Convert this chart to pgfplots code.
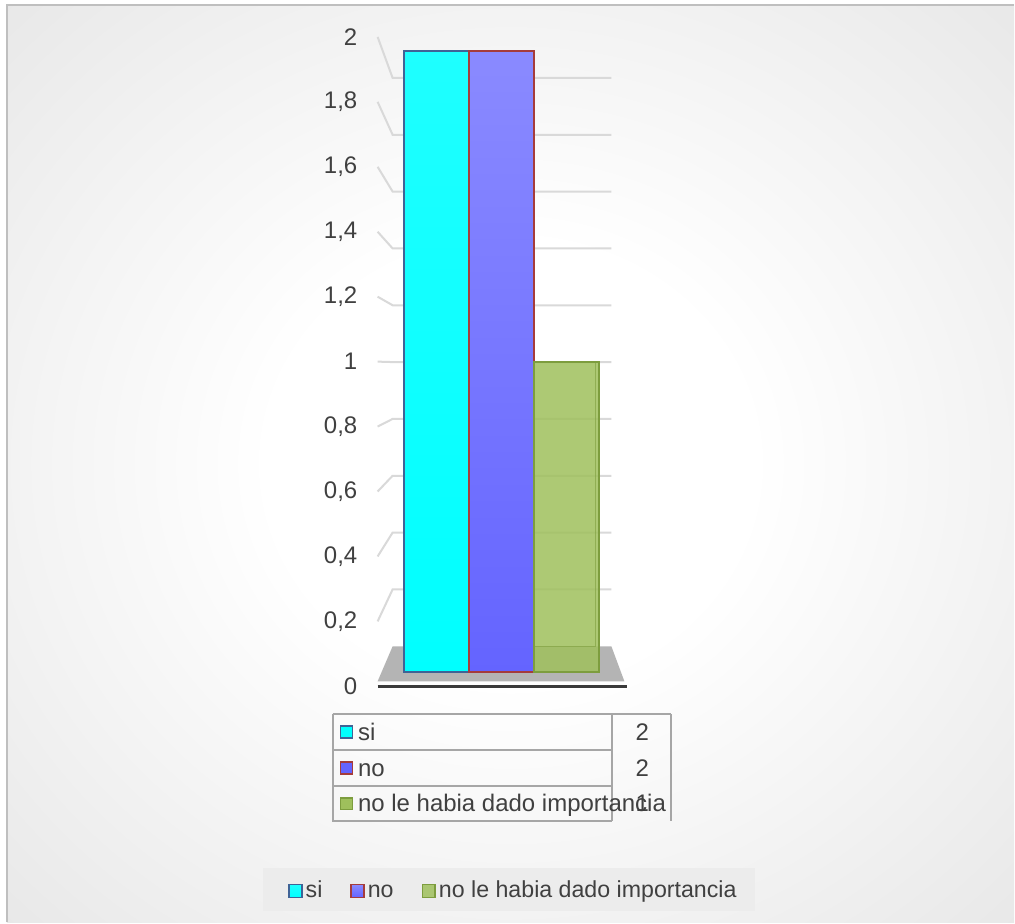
\documentclass[border=0pt]{standalone}
\usepackage{fontspec}
\setmainfont{Liberation Sans}
\usepackage{pgfplots}
\pgfplotsset{compat=1.18}

\definecolor{bgedge}{HTML}{DADADA}
\definecolor{bgcorner}{HTML}{C4C4C4}
\definecolor{framec}{HTML}{BFBFBF}
\definecolor{gridc}{HTML}{D9D9D9}
\definecolor{floorc}{HTML}{B4B4B4}
\definecolor{basec}{HTML}{3A3A3A}
\definecolor{textc}{HTML}{404040}
\definecolor{tablec}{HTML}{A6A6A6}
\definecolor{legbg}{HTML}{ECECEC}
\definecolor{sitop}{HTML}{1EFFFF}
\definecolor{sibot}{HTML}{00FFFF}
\definecolor{siedge}{HTML}{3F6396}
\definecolor{notop}{HTML}{8A8AFF}
\definecolor{nobot}{HTML}{6464FF}
\definecolor{noedge}{HTML}{A53C3C}
\definecolor{imfill}{HTML}{9FC05C}
\definecolor{imedge}{HTML}{7D9D3E}

\pgfdeclareradialshading{chartbg}{\pgfpoint{0bp}{0bp}}{color(0bp)=(white); color(12bp)=(white); color(50bp)=(bgedge); color(70.8bp)=(bgcorner)}

\pgfplotsset{
  keysq/.style={legend image code/.code={%
    \draw[##1, line width=0.8pt] (0pt,-3.2pt) rectangle (6.4pt,3.2pt);}},
}

\begin{document}
\begin{tikzpicture}[x=1pt,y=1pt]
% chart area with radial background
\fill[white] (0,0) rectangle (507.5,461.5);
\shade[shading=chartbg] (3.5,0) rectangle (507.5,459);
\draw[line width=1pt, framec] (3.5,0) -- (3.5,459) -- (507.5,459);
% legend box
\fill[legbg] (131.5,5.5) rectangle (378,27);

% front scale: value labels, walls and floor
\begin{axis}[
  at={(189pt,118pt)}, anchor=south west, scale only axis,
  width=125pt, height=325pt,
  xmin=378, xmax=628, ymin=0, ymax=2,
  axis line style={draw=none}, xtick=\empty,
  ytick={0,0.2,0.4,0.6,0.8,1,1.2,1.4,1.6,1.8,2},
  major tick length=0pt, clip=false,
  yticklabel style={font=\fontsize{12}{14}\selectfont, text=textc,
    anchor=east, inner sep=0pt, xshift=-10pt,
    /pgf/number format/use comma,
    /pgf/number format/assume math mode=true},
]
  \fill[floorc] (axis cs:393,0.1231) -- (axis cs:612,0.1231)
     -- (axis cs:625,0.0154) -- (axis cs:378,0.0154) -- cycle;
  \pgfplotsinvokeforeach{0.2,0.4,0.6,0.8,1,1.2,1.4,1.6,1.8,2}{
    \draw[gridc, line width=1pt] (axis cs:378,#1)
      -- (axis cs:393,{0.1234+0.8752*#1}) -- (axis cs:612,{0.1234+0.8752*#1});
  }
  \draw[basec, line width=1.6pt] (axis cs:378,0) -- (axis cs:628,0);
\end{axis}

% bars
\begin{axis}[
  at={(202pt,125pt)}, anchor=south west, scale only axis,
  width=98pt, height=311pt,
  xmin=0, xmax=3, ymin=0, ymax=2,
  hide axis, clip=false,
  legend columns=-1,
  legend style={at={(0.5635,-0.352)}, anchor=center, draw=none, fill=none,
    font=\fontsize{11.6}{13}\selectfont, text=textc,
    nodes={inner xsep=1.5pt, inner ysep=1pt, text height=8.4pt, text depth=2.4pt},
    /tikz/every even column/.append style={column sep=12.5pt}},
]
  \addplot[ybar, bar width=1, bar shift=0pt, draw=siedge, line width=1pt,
    top color=sitop, bottom color=sibot, keysq] coordinates {(0.5,2)};
  \addlegendentry{si}
  \addplot[ybar, bar width=1, bar shift=0pt, draw=noedge, line width=1pt,
    top color=notop, bottom color=nobot, keysq] coordinates {(1.5,2)};
  \addlegendentry{no}
  \addplot[ybar, bar width=1, bar shift=0pt, draw=imedge, line width=1pt,
    fill=imfill, fill opacity=0.85, keysq] coordinates {(2.5,1)};
  \addlegendentry{no le habia dado importancia}
  % back edges of the translucent bar
  \draw[imedge, line width=0.6pt, opacity=0.6] (axis cs:2.939,1) -- (axis cs:2.939,0.0836) -- (axis cs:2,0.0836);
\end{axis}

% data table
\begin{scope}[line width=1pt, tablec]
  \draw (166.5,104) -- (336,104);
  \draw (166.5,104) -- (166.5,50.5) -- (306.5,50.5);
  \draw (166.5,86) -- (306.5,86);
  \draw (166.5,68) -- (306.5,68);
  \draw (306.5,104) -- (306.5,50.5);
  \draw (336,104) -- (336,50.5);
\end{scope}
\begin{scope}[every node/.style={font=\fontsize{12}{14}\selectfont, text=textc, inner sep=0pt}]
  \draw[siedge, line width=0.8pt, fill=sibot] (170.5,92) rectangle (176.5,98);
  \draw[noedge, line width=0.8pt, fill=nobot] (170.5,74) rectangle (176.5,80);
  \draw[imedge, line width=0.8pt, fill=imfill] (170.5,56.25) rectangle (176.5,62.25);
  \node[anchor=base west] at (179,91.1) {si};
  \node[anchor=base west] at (179,73.1) {no};
  \node[anchor=base west] at (179,55.35) {no le habia dado importancia};
  \node[anchor=base] at (321.5,91.1) {2};
  \node[anchor=base] at (321.5,73.1) {2};
  \node[anchor=base] at (321.5,55.35) {1};
\end{scope}
\end{tikzpicture}
\end{document}
